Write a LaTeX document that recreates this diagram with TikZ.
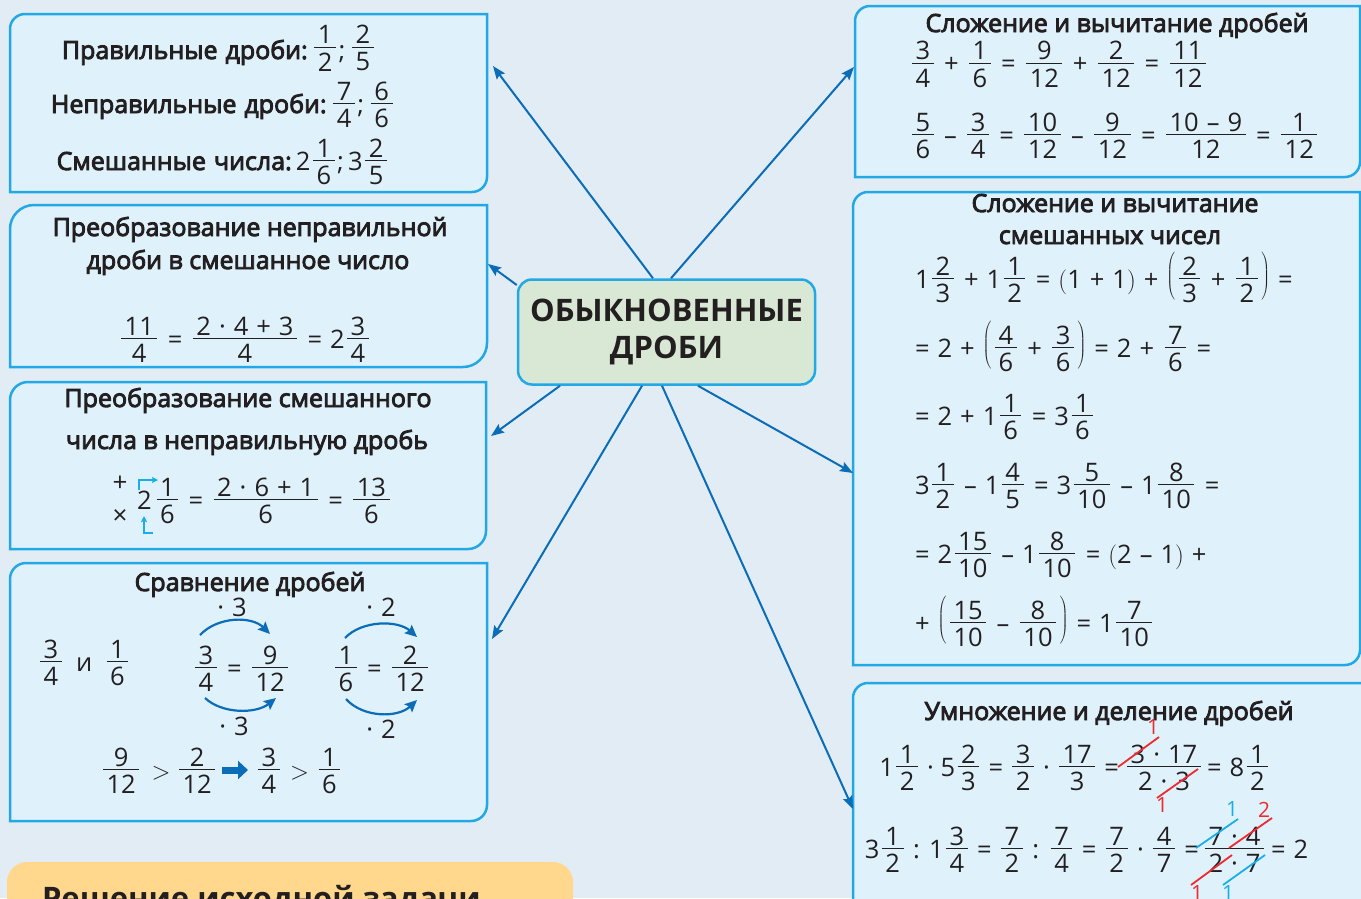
\documentclass[tikz,border=0pt]{standalone}
\usepackage{fontspec}
\setmainfont{Open Sans}
\newfontfamily\semib{Open Sans}[FakeBold=3.5]
\usetikzlibrary{arrows.meta,calc}

\definecolor{bgc}{HTML}{E1ECF5}
\definecolor{boxfill}{HTML}{DFF2FC}
\definecolor{boxline}{HTML}{22A8E4}
\definecolor{connc}{HTML}{0B6DB7}
\definecolor{cfill}{HTML}{D9E8D5}
\definecolor{txtc}{HTML}{231F20}
\definecolor{strred}{HTML}{EE2A2F}
\definecolor{strblue}{HTML}{19AEEA}
\definecolor{orfill}{HTML}{FFD78D}

\newsavebox\frN
\newsavebox\frD
\newdimen\frW
\def\frh{0.36em}
\newcommand\fr[2]{\mbox{\sbox\frN{#1}\sbox\frD{#2}%
  \frW=\wd\frN\relax
  \ifdim\wd\frD>\frW \frW=\wd\frD\relax\fi
  \advance\frW by 7pt\relax
  \kern2.5pt%
  \raisebox{\frh}{\rlap{\raisebox{3.5pt}{\makebox[\frW]{\usebox\frN}}}%
    \rlap{\raisebox{\dimexpr-5.5pt-\ht\frD\relax}{\makebox[\frW]{\usebox\frD}}}%
    \rule[-0.5pt]{\frW}{1pt}}%
  \kern2.5pt}}
\newcommand\lp{\raisebox{5.5pt}{$\left(\vrule height 20pt depth 20pt width 0pt\right.$}}
\newcommand\rp{\raisebox{5.5pt}{$\left.\vrule height 20pt depth 20pt width 0pt\right)$}}
\newcommand\smlp{$($}
\newcommand\smrp{$)$}
\newcommand\fse{\fontsize{25.5}{30}\selectfont\spaceskip=8pt\relax}
\newcommand\fst{\fontsize{25}{30}\selectfont}
\newcommand\fsm{\fontsize{21}{25}\selectfont}

\begin{document}
\begin{tikzpicture}[x=1pt,y=-1pt,
  panel/.style={draw=boxline, fill=boxfill, line width=2.5pt},
  tlbr/.style n args={5}{insert path={(#1,#4) -- (#1,{#2+#5}) .. controls (#1,{#2+0.45*#5}) and ({#1+0.45*#5},#2) .. ({#1+#5},#2) -- (#3,#2) -- (#3,{#4-#5}) .. controls (#3,{#4-0.45*#5}) and ({#3-0.45*#5},#4) .. ({#3-#5},#4) -- cycle}},
  eq/.style={inner sep=0pt, outer sep=0pt, text=txtc, font=\fse, anchor=base west},
  eqc/.style={eq, anchor=base},
  eqr/.style={eq, anchor=base east},
  ttl/.style={eq, anchor=base, font=\semib\fst},
  conn/.style={draw=connc, line width=2pt, -{Stealth[length=13pt,width=10pt,inset=2pt]}},
  arcarrow/.style={draw=connc, line width=2.2pt, -{Stealth[length=12pt,width=11pt,inset=2pt]}},
  brk/.style={draw=strblue, line width=1.8pt, -{Stealth[length=6pt,width=6pt,inset=1pt]}},
  strk/.style={line width=1.8pt},
  smalld/.style={inner sep=0pt, font=\fsm, anchor=center}
]
\useasboundingbox (0,0) rectangle (1361,898);
\clip (0,0) rectangle (1361,898);
\fill[bgc] (0,0) rectangle (1361,898);

% ---------- panels ----------
\path[panel, tlbr={10}{14}{487}{192}{15}];
\path[panel, tlbr={10}{205}{487}{367}{24}];
\path[panel, tlbr={10}{382}{486}{549}{18}];
\path[panel, tlbr={10}{563}{487}{821}{16}];
\path[panel, tlbr={855}{6}{1360}{177}{15}];
\path[panel, tlbr={853}{192}{1360}{665}{15}];
\path[panel, tlbr={853}{683}{1364}{930}{15}];

% orange box
\fill[orfill] (7,910) -- (7,882) .. controls (7,871) and (16,862) .. (27,862) -- (553,862) .. controls (564,862) and (573,871) .. (573,882) -- (573,910) -- cycle;
\node[eq, font=\bfseries\fontsize{31}{36}\selectfont] (sol) at (42,909) {Решение исходной задачи};

% ---------- centre ----------
\node[draw=boxline, fill=cfill, line width=2.5pt, rounded corners=14pt,
      minimum width=297pt, minimum height=105pt, inner sep=0pt, align=center,
      text=txtc, font=\bfseries\fontsize{31}{37}\selectfont] (c) at (666.5,332) {ОБЫКНОВЕННЫЕ\\ДРОБИ};

% ---------- connectors ----------
\coordinate (t1) at (493,66);
\coordinate (t2) at (488,264);
\coordinate (t3) at (491,436);
\coordinate (t4) at (492,639);
\coordinate (t5) at (854,67);
\coordinate (t6) at (853,473);
\coordinate (t7) at (853,809);
\draw[conn] ($(c.north)+(-13.5,0)$) -- (t1);
\draw[conn] ($(c.west)+(0,-47)$) -- (t2);
\draw[conn] ($(c.south)+(-106.5,0)$) -- (t3);
\draw[conn] ($(c.south)+(-24.5,0)$) -- (t4);
\draw[conn] ($(c.north)+(4.5,0)$) -- (t5);
\draw[conn] ($(c.south)+(31.5,0)$) -- (t6);
\draw[conn] ($(c.south)+(-4.5,0)$) -- (t7);

% ---------- box 1 ----------
\node[eqc] (a1) at (219,59) {\def\frh{0.46em}{\semib\fst Правильные дроби:}\,\fr12;\,\fr25};
\node[eqc] (a2) at (223,113) {{\semib\fst Неправильные дроби:}\,\fr74;\,\fr66};
\node[eqc] (a3) at (223,170) {{\semib\fst Смешанные числа:}\,2\fr16;\,3\fr25};

% ---------- box 2 ----------
\node[ttl] (b1) at (250,236) {Преобразование неправильной};
\node[ttl] (b2) at (248,269) {дроби в смешанное число};
\node[eqc] (b3) at (245,348) {\fr{11}{4} = \fr{2 · 4 + 3}{4} = 2\fr34};

% ---------- box 3 ----------
\node[ttl] (c1) at (248,407) {Преобразование смешанного};
\node[ttl] (c2) at (247,449) {числа в неправильную дробь};
\node[inner sep=0pt, text=txtc, font=\fontsize{26}{30}\selectfont] (cplus) at (120,484) {+};
\node[inner sep=0pt, text=txtc, font=\fontsize{26}{30}\selectfont] (ctimes) at (120,517) {×};
\node[eq] (ctwo) at (137,509) {2};
\node[eq] (c3) at (154,509) {\fr16 = \fr{2 · 6 + 1}{6} = \fr{13}{6}};
\coordinate (bk1a) at (139,490);
\coordinate (bk1b) at (139,480);
\coordinate (bk1c) at (158,480);
\draw[brk] (bk1a) -- (bk1b) -- (bk1c);
\coordinate (bk2a) at (153,533);
\coordinate (bk2b) at (144,533);
\coordinate (bk2c) at (144,516);
\draw[brk] (bk2a) -- (bk2b) -- (bk2c);

% ---------- box 4 ----------
\node[ttl] (d1) at (250,591) {Сравнение дробей};
\node[eq] (d2) at (37.5,671) {\fr34\hskip12pt и\hskip12pt\fr16};
\node[eq] (d3) at (192.5,677) {\fr34 = \fr9{12}};
\node[eq] (d4) at (332.5,677) {\fr16 = \fr2{12}};
\draw[arcarrow] (200,635) .. controls (218,616) and (252,616) .. (270,634);
\draw[arcarrow] (205,698) .. controls (222,714) and (256,714) .. (276,698);
\draw[arcarrow] (345,638) .. controls (362,620) and (398,620) .. (417,637);
\draw[arcarrow] (346,699) .. controls (363,718) and (398,718) .. (417,700);
\node[eqc] (m1) at (232,616.7) {· 3};
\node[eqc] (m2) at (234,735) {· 3};
\node[eqc] (m3) at (381,616.7) {· 2};
\node[eqc] (m4) at (381,738) {· 2};
\node[eq] (d5) at (100.5,779) {\fr9{12}\hskip10pt$>$\hskip6pt\fr2{12}};
\draw[draw=connc, line width=7pt, -{Triangle[length=10pt,width=18pt]}] (222,770) -- (248,770);
\node[eq] (d6) at (255.5,779) {\fr34\hskip8pt$>$\hskip7pt\fr16};

% ---------- box 5 ----------
\node[ttl] (e1) at (1117,32) {Сложение и вычитание дробей};
\node[eq] (e2) at (909.5,72.5) {\fr34 + \fr16 = \fr9{12} + \fr2{12} = \fr{11}{12}};
\node[eq] (e3) at (909.5,144) {\fr56 – \fr34 = \fr{10}{12} – \fr9{12} = \fr{10 – 9}{12} = \fr1{12}};

% ---------- box 6 ----------
\node[ttl] (f1) at (1115,212) {Сложение и вычитание};
\node[ttl] (f2) at (1110,244) {смешанных чисел};
\node[eq] (f3) at (915,288) {1\fr23 + 1\fr12 = \smlp1 + 1\smrp{} + \lp\fr23 + \fr12\rp{} =};
\node[eq] (f4) at (915,357) {= 2 + \lp\fr46 + \fr36\rp{} = 2 + \fr76 =};
\node[eq] (f5) at (915,425) {= 2 + 1\fr16 = 3\fr16};
\node[eq] (f6) at (915,494) {3\fr12 – 1\fr45 = 3\fr5{10} – 1\fr8{10} =};
\node[eq] (f7) at (915,563) {= 2\fr{15}{10} – 1\fr8{10} = \smlp2 – 1\smrp{} +};
\node[eq] (f8) at (915,632) {+ \lp\fr{15}{10} – \fr8{10}\rp{} = 1\fr7{10}};

% ---------- box 7 ----------
\node[ttl] (g1) at (1109,720) {Умножение и деление дробей};
\node[eqr] (g2a) at (1119,776) {\spaceskip=6.7pt\relax 1\fr12 · 5\fr23 = \fr32 · \fr{17}3 =};
\node[eqc] (g2b) at (1164,776) {\fr{3 · 17}{2 · 3}};
\node[eq] (g2c) at (1207,776) {= 8\fr12};
\node[eqr] (g3a) at (1199,858) {\spaceskip=7pt\relax 3\fr12 : 1\fr34 = \fr72 : \fr74 = \fr72 · \fr47 =};
\node[eqc] (g3b) at (1234.5,858) {\fr{7 · 4}{2 · 7}};
\node[eq] (g3c) at (1271,858) {= 2};
% cancellation marks
\draw[strk, strred] (1118,767) -- (1159,737);
\draw[strk, strred] (1157,798) -- (1198,769);
\node[smalld, text=strred] (r1) at (1153,727) {1};
\node[smalld, text=strred] (r2) at (1162,805) {1};
\draw[strk, strblue] (1196,848) -- (1238,819);
\draw[strk, strred] (1229,848) -- (1272,818);
\draw[strk, strred] (1191,885) -- (1232,855);
\draw[strk, strblue] (1223,885) -- (1265,855);
\node[smalld, text=strblue] (q1) at (1232,809) {1};
\node[smalld, text=strred] (q2) at (1264,810) {2};
\node[smalld, text=strred] (q3) at (1197,893) {1};
\node[smalld, text=strblue] (q4) at (1228,893) {1};
\end{tikzpicture}
\end{document}
